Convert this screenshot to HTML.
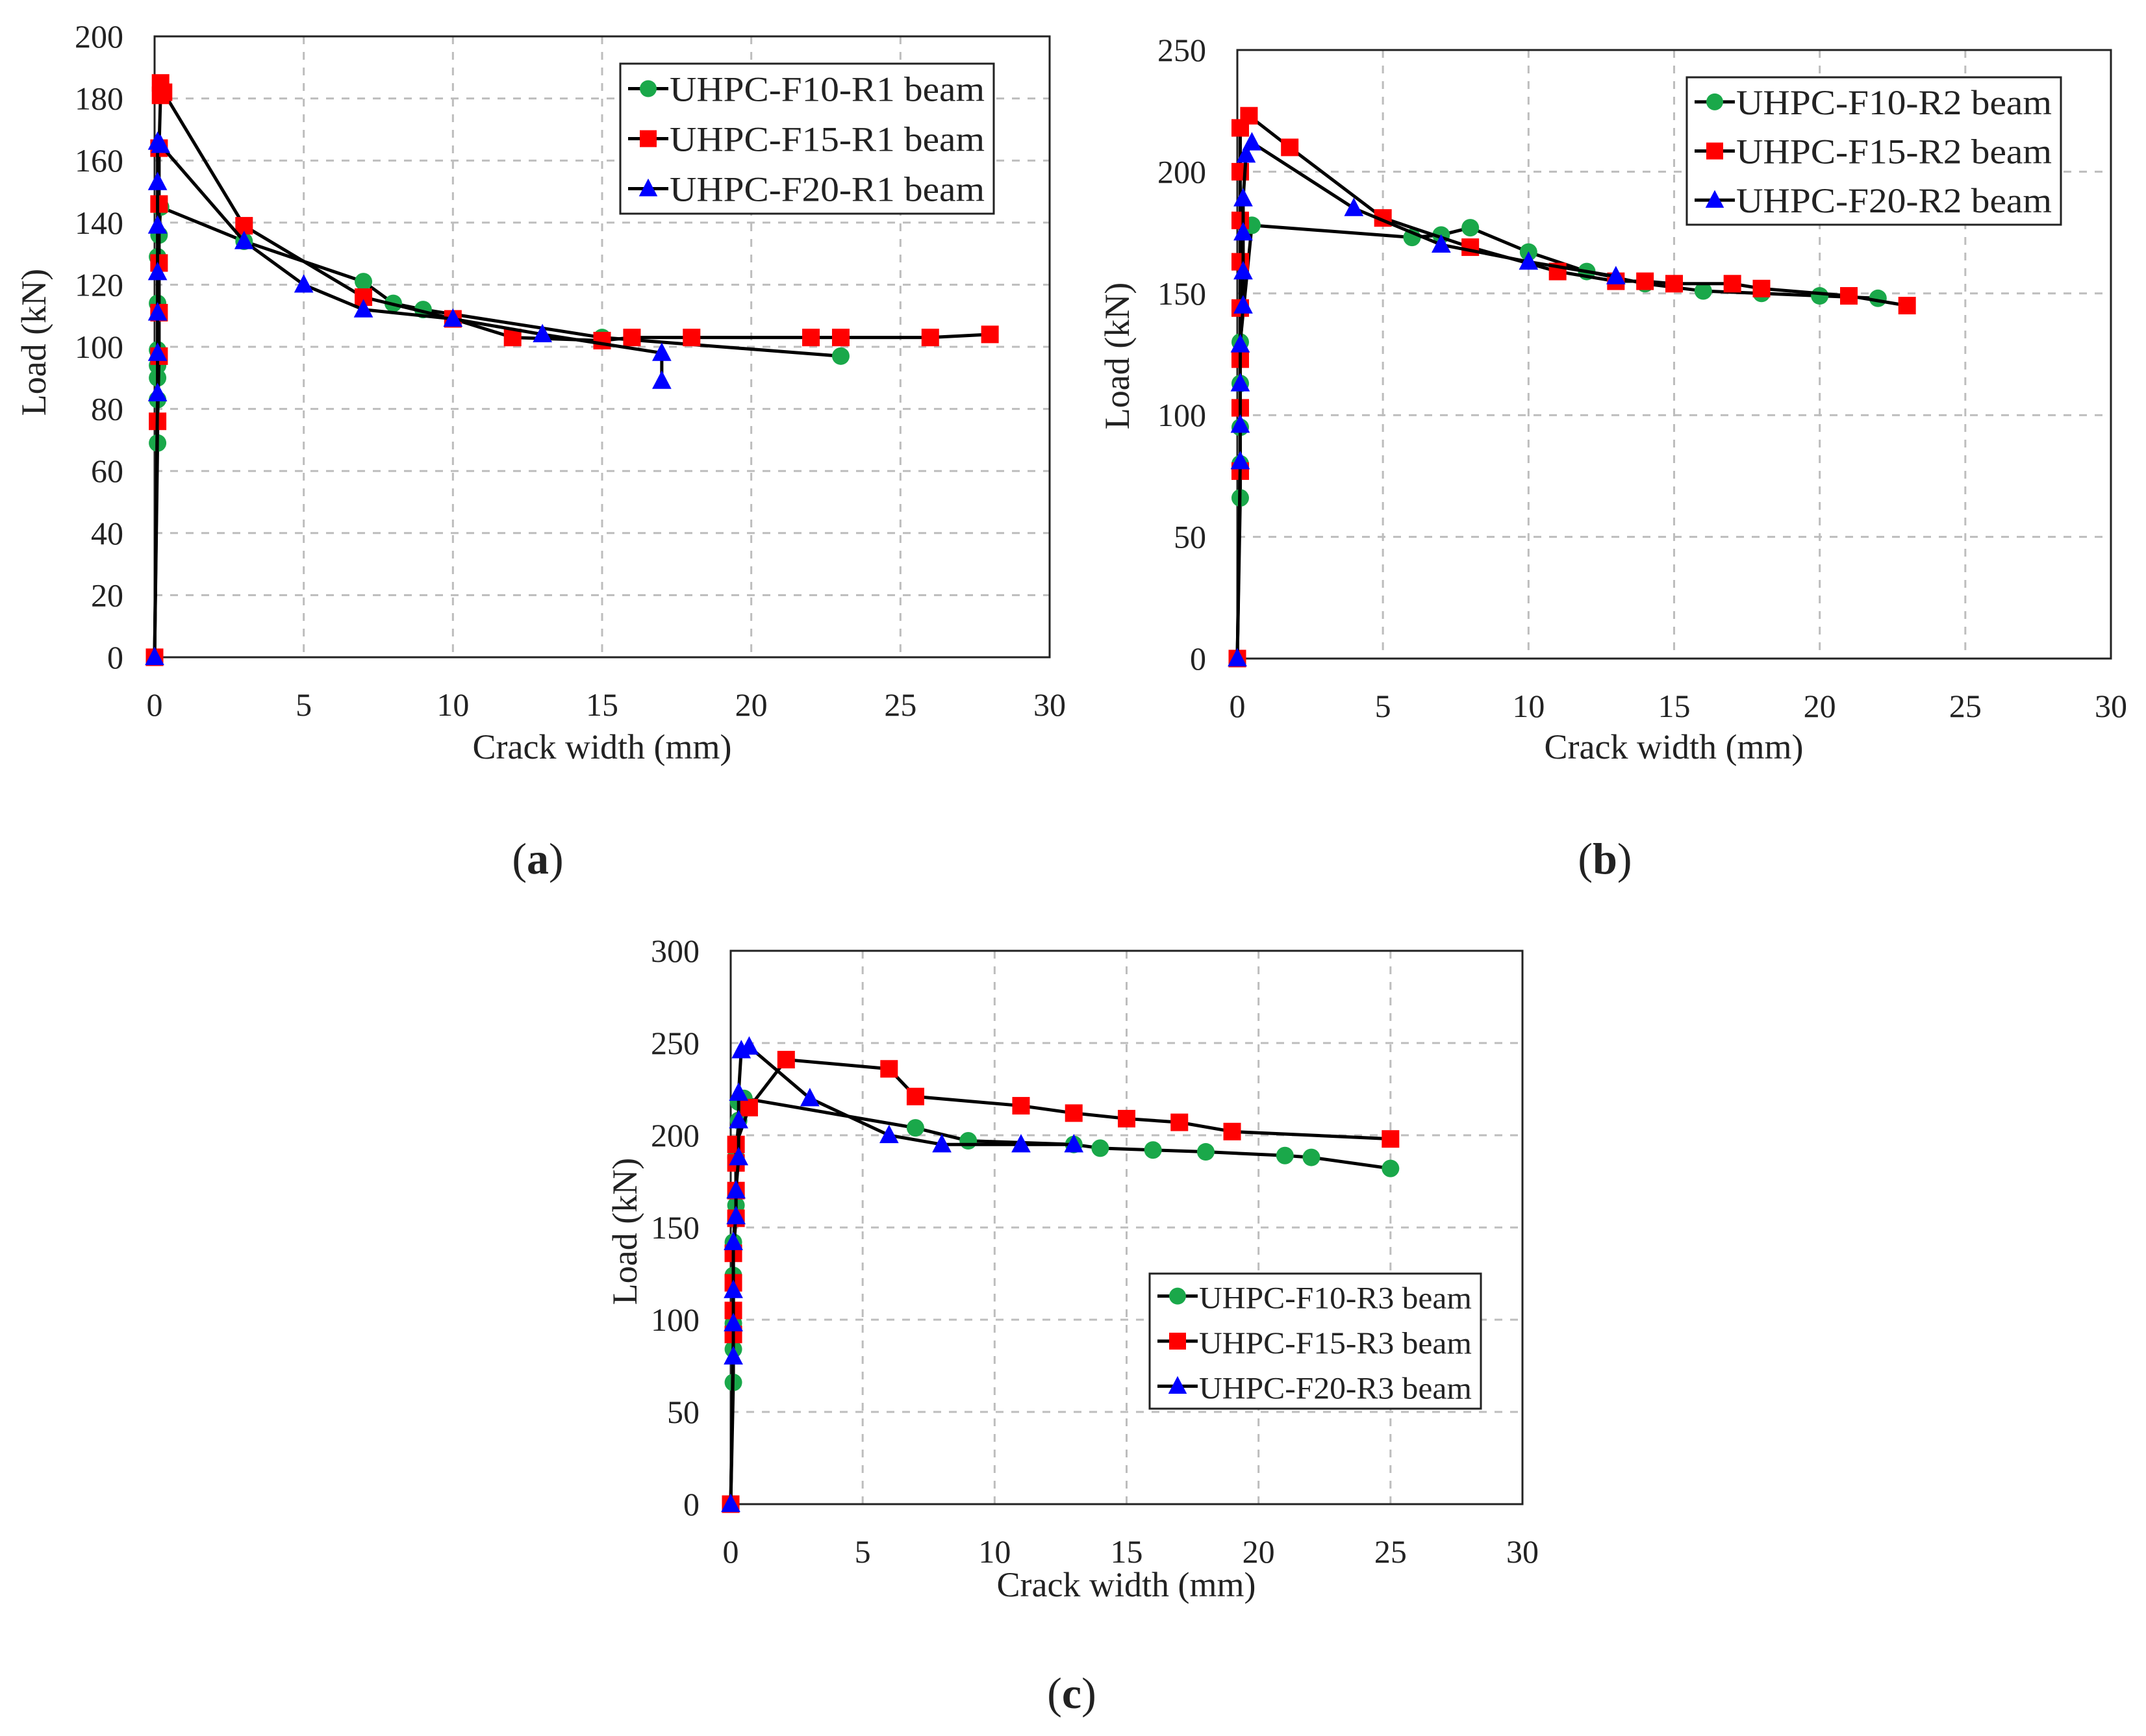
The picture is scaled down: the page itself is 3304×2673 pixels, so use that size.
<!DOCTYPE html>
<html><head><meta charset="utf-8">
<style>
html,body{margin:0;padding:0;background:#fff;}
svg{display:block;}
text{font-family:"Liberation Serif",serif;fill:#222;}
</style></head>
<body>
<svg id="fig" width="3304" height="2673" viewBox="0 0 3304 2673" xmlns="http://www.w3.org/2000/svg"></svg>
<script>
// ---- Chart (a) data ----
const aF10x=[0,0.1,0.1,0.1,0.1,0.1,0.1,0.1,0.15,0.2,3,7,8,9,15,23];
const aF10y=[0,69,83,90,94,99,114,129,136,145,134,121,114,112,103,97];
const aF15x=[0,0.1,0.15,0.15,0.15,0.15,0.15,0.2,0.2,0.3,3,7,10,12,15,16,18,22,23,26,28];
const aF15y=[0,76,97,111,127,146,164,181,185,182,139,116,109,103,102,103,103,103,103,103,104];
const aF20x=[0,0.1,0.1,0.1,0.1,0.1,0.1,0.1,0.2,3,5,7,10,13,17,17];
const aF20y=[0,85,98,111,124,139,153,166,165,134,120,112,109,104,98,89];
// ---- Chart (b) data ----
const bF10x=[0,0.1,0.1,0.1,0.1,0.1,0.5,6,7,8,10,12,14,16,18,20,22];
const bF10y=[0,66,80,95,113,130,178,173,174,177,167,159,154,151,150,149,148];
const bF15x=[0,0.1,0.1,0.1,0.1,0.1,0.1,0.1,0.1,0.4,1.8,5,8,11,13,14,15,17,18,21,23];
const bF15y=[0,77,103,123,144,163,180,200,218,223,210,181,169,159,155,155,154,154,152,149,145];
const bF20x=[0,0.1,0.1,0.1,0.1,0.2,0.2,0.2,0.2,0.3,0.5,4,7,10,13];
const bF20y=[0,81,96,113,129,145,159,175,189,207,212,185,170,163,157];
// ---- Chart (c) data ----
const cF10x=[0,0.1,0.1,0.1,0.1,0.1,0.2,0.2,0.3,0.3,0.5,7,9,13,14,16,18,21,22,25];
const cF10y=[0,66,84,98,124,142,162,188,208,218,220,204,197,195,193,192,191,189,188,182];
const cF15x=[0,0.1,0.1,0.1,0.1,0.2,0.2,0.2,0.2,0.7,2.1,6,7,11,13,15,17,19,25];
const cF15y=[0,92,105,120,136,155,170,185,195,215,241,236,221,216,212,209,207,202,198];
const cF20x=[0,0.1,0.1,0.1,0.1,0.2,0.2,0.3,0.3,0.3,0.4,0.7,3,6,8,11,13];
const cF20y=[0,80,98,116,142,156,170,188,208,223,246,248,220,200,195,195,195];
// ticks
const xTicks=[0,5,10,15,20,25,30];
const aYTicks=[0,20,40,60,80,100,120,140,160,180,200];
const bYTicks=[0,50,100,150,200,250];
const cYTicks=[0,50,100,150,200,250,300];

const NS="http://www.w3.org/2000/svg";
const svg=document.getElementById('fig');
function el(tag,attrs,parent){const e=document.createElementNS(NS,tag);for(const k in attrs)e.setAttribute(k,attrs[k]);(parent||svg).appendChild(e);return e;}

function marker(g,kind,cx,cy,s){
  let m;
  if(kind==='circle'){m=el('circle',{cx:cx,cy:cy,r:s*0.5,fill:'#1aa84a'},g);}
  else if(kind==='square'){m=el('rect',{x:cx-s/2,y:cy-s/2,width:s,height:s,fill:'#ff0000'},g);}
  else {m=el('polygon',{points:`${cx},${cy-s*0.6} ${cx-s*0.55},${cy+s*0.45} ${cx+s*0.55},${cy+s*0.45}`,fill:'#0000ff'},g);}
  return m;
}

function chart(id,x0,x1,yTop,yBot,yMax,yTicks,series,legend,ytitle,xtitle,panel){
  const g=el('g',{});
  
  
  const X=v=>x0+(x1-x0)*v/30;
  const Y=v=>yBot-(yBot-yTop)*v/yMax;
  xTicks.forEach(t=>{if(t>0&&t<30){const l=el('line',{x1:X(t),x2:X(t),y1:yTop,y2:yBot,stroke:'#bdbdbd','stroke-width':3,'stroke-dasharray':'12 12'},g);}});
  yTicks.forEach(t=>{if(t>0&&t<yMax){const l=el('line',{x1:x0,x2:x1,y1:Y(t),y2:Y(t),stroke:'#bdbdbd','stroke-width':3,'stroke-dasharray':'12 12'},g);}});
  const fr=el('rect',{x:x0,y:yTop,width:x1-x0,height:yBot-yTop,fill:'none',stroke:'#222','stroke-width':3},g);
  
  xTicks.forEach(t=>{const tx=el('text',{x:X(t),y:yBot+90,'font-size':50,'text-anchor':'middle'},g);tx.textContent=t;});
  yTicks.forEach(t=>{const tx=el('text',{x:x0-48,y:Y(t)+17,'font-size':50,'text-anchor':'end'},g);tx.textContent=t;});
  series.forEach(s=>{
    const sg=el('g',{},g);
    
    
    const pts=s.x.map((v,i)=>X(v)+','+Y(s.y[i])).join(' ');
    el('polyline',{points:pts,fill:'none',stroke:'#000','stroke-width':5,'stroke-linejoin':'round'},sg);
    s.x.forEach((v,i)=>{const m=marker(sg,s.kind,X(v),Y(s.y[i]),27);});
  });
  const lg=el('g',{},g);
  
  
  el('rect',{x:legend.x,y:legend.y,width:legend.w,height:legend.h,fill:'#fff',stroke:'#222','stroke-width':3},lg);
  const step=legend.h/3;
  series.forEach((s,i)=>{
    const cy=legend.y+step*(i+0.5);
    const eg=el('g',{},lg);
    
    
    el('line',{x1:legend.x+12,x2:legend.x+74,y1:cy,y2:cy,stroke:'#000','stroke-width':5},eg);
    marker(eg,s.kind,legend.x+43,cy,26);
    const tx=el('text',{x:legend.x+76,y:cy+19,'font-size':legend.fs,'textLength':legend.w-90,'lengthAdjust':'spacingAndGlyphs'},eg);tx.textContent=s.label;
  });
  const yt=el('text',{x:0,y:0,'font-size':54,'text-anchor':'middle',transform:`translate(${ytitle[0]},${ytitle[1]}) rotate(-90)`},g);
  yt.textContent='Load (kN)';
  const xt=el('text',{x:xtitle[0],y:xtitle[1],'font-size':54,'text-anchor':'middle'},g);
  xt.textContent='Crack width (mm)';
  const pl=el('text',{x:panel[0],y:panel[1],'font-size':68,'text-anchor':'middle'},g);
  pl.innerHTML='(<tspan font-weight="bold">'+panel[2]+'</tspan>)';
  
}

chart('chart-a',238,1616,56,1012,200,aYTicks,[
 {name:'series-f10-r1',kind:'circle',x:aF10x,y:aF10y,label:'UHPC-F10-R1 beam'},
 {name:'series-f15-r1',kind:'square',x:aF15x,y:aF15y,label:'UHPC-F15-R1 beam'},
 {name:'series-f20-r1',kind:'triangle',x:aF20x,y:aF20y,label:'UHPC-F20-R1 beam'}],
 {x:955,y:98,w:575,h:231,fs:54},[70,527],[927,1168],[828,1345,'a']);

chart('chart-b',1905,3250,77,1014,250,bYTicks,[
 {name:'series-f10-r2',kind:'circle',x:bF10x,y:bF10y,label:'UHPC-F10-R2 beam'},
 {name:'series-f15-r2',kind:'square',x:bF15x,y:bF15y,label:'UHPC-F15-R2 beam'},
 {name:'series-f20-r2',kind:'triangle',x:bF20x,y:bF20y,label:'UHPC-F20-R2 beam'}],
 {x:2597,y:119,w:576,h:227,fs:54},[1738,548],[2577,1168],[2471,1345,'b']);

chart('chart-c',1125,2344,1464,2316,300,cYTicks,[
 {name:'series-f10-r3',kind:'circle',x:cF10x,y:cF10y,label:'UHPC-F10-R3 beam'},
 {name:'series-f15-r3',kind:'square',x:cF15x,y:cF15y,label:'UHPC-F15-R3 beam'},
 {name:'series-f20-r3',kind:'triangle',x:cF20x,y:cF20y,label:'UHPC-F20-R3 beam'}],
 {x:1770,y:1961,w:510,h:208,fs:48},[980,1896],[1734,2458],[1650,2630,'c']);
</script>
</body></html>
